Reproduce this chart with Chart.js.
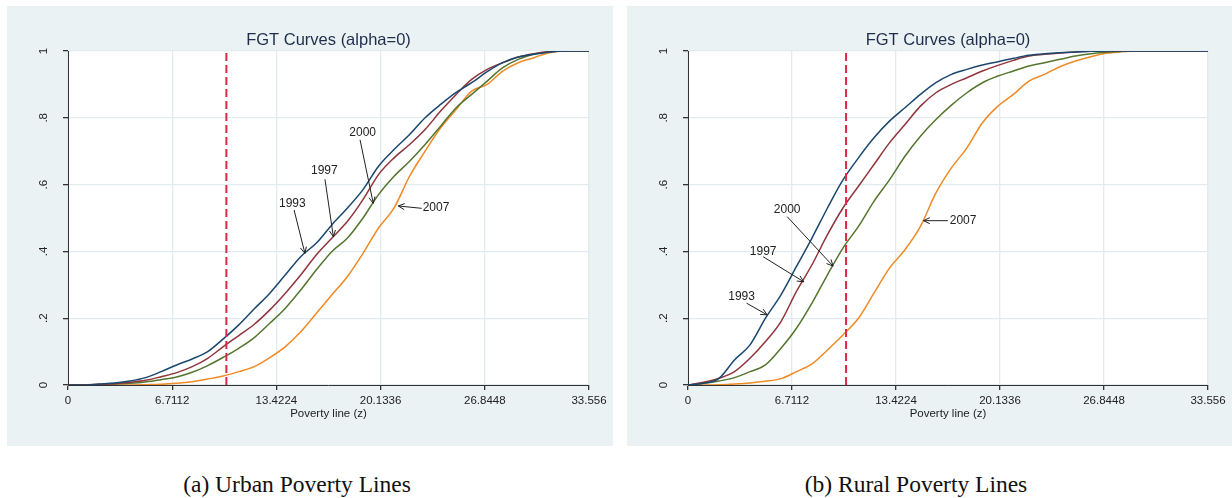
<!DOCTYPE html>
<html>
<head>
<meta charset="utf-8">
<script src="https://cdn.jsdelivr.net/npm/chart.js@4.4.1/dist/chart.umd.min.js"></script>
<style>
body { margin: 0; background: #fff; width: 1232px; height: 498px; position: relative; overflow: hidden; }
.panel { position: absolute; top: 6px; height: 440px; background: #eaf2f3; }
#panelA { left: 7px; width: 606px; }
#panelB { left: 627px; width: 605px; }
.caption { position: absolute; top: 471px; width: 300px; text-align: center; font-family: "Liberation Serif", "Times New Roman", serif; font-size: 23.5px; color: #111; white-space: nowrap; }
#capA { left: 147px; }
#capB { left: 766px; }
</style>
</head>
<body>
<div class="panel" id="panelA"><canvas id="chartA"></canvas></div>
<div class="panel" id="panelB"><canvas id="chartB"></canvas></div>
<div class="caption" id="capA">(a) Urban Poverty Lines</div>
<div class="caption" id="capB">(b) Rural Poverty Lines</div>
<script>
// poverty line values (z) where each curve was read
const zGrid = [0,1,2,3,4,5,6,7,8,9,10,11,12,13,14,15,16,17,18,19,20,21,22,23,24,25,26,27,28,29,30,31,32,33,33.556];

const years = ['1993', '1997', '2000', '2007'];
const yearColors = ['#1a476f', '#90353b', '#55752f', '#ef8a25'];

// urban headcount (alpha = 0)
const urban1993 = [0,0,0.003,0.006,0.012,0.022,0.04,0.06,0.078,0.1,0.138,0.18,0.228,0.275,0.33,0.385,0.425,0.48,0.53,0.585,0.655,0.705,0.75,0.8,0.84,0.876,0.905,0.938,0.965,0.982,0.99,0.997,1,1,1];
const urban1997 = [0,0,0.002,0.004,0.008,0.014,0.025,0.037,0.055,0.08,0.115,0.148,0.182,0.225,0.275,0.33,0.39,0.44,0.49,0.555,0.63,0.68,0.72,0.765,0.82,0.87,0.915,0.945,0.965,0.982,0.992,0.998,1,1,1];
const urban2000 = [0,0,0.001,0.003,0.005,0.009,0.016,0.024,0.038,0.058,0.083,0.11,0.142,0.185,0.23,0.285,0.345,0.4,0.44,0.5,0.57,0.625,0.67,0.72,0.775,0.83,0.87,0.91,0.95,0.975,0.99,0.998,1,1,1];
const urban2007 = [0,0,0,0,0,0.001,0.002,0.005,0.01,0.018,0.027,0.04,0.055,0.082,0.115,0.16,0.215,0.27,0.325,0.394,0.47,0.53,0.625,0.7,0.77,0.825,0.88,0.9,0.94,0.965,0.98,0.995,1,1,1];

// rural headcount (alpha = 0)
const rural1993 = [0,0.005,0.02,0.075,0.12,0.2,0.27,0.355,0.44,0.53,0.614,0.68,0.74,0.79,0.83,0.87,0.905,0.93,0.945,0.958,0.968,0.978,0.987,0.992,0.995,0.997,0.999,1,1,1,1,1,1,1,1];
const rural1997 = [0,0.008,0.02,0.04,0.08,0.13,0.19,0.28,0.36,0.45,0.53,0.595,0.66,0.725,0.78,0.835,0.875,0.9,0.92,0.94,0.957,0.972,0.985,0.99,0.994,0.997,0.999,1,1,1,1,1,1,1,1];
const rural2000 = [0,0.005,0.012,0.022,0.04,0.06,0.11,0.17,0.245,0.33,0.41,0.475,0.55,0.614,0.685,0.745,0.795,0.838,0.875,0.905,0.925,0.94,0.955,0.965,0.975,0.985,0.992,0.996,0.999,1,1,1,1,1,1];
const rural2007 = [0,0,0.001,0.003,0.006,0.011,0.019,0.04,0.063,0.105,0.15,0.2,0.275,0.35,0.405,0.475,0.575,0.65,0.71,0.785,0.835,0.87,0.91,0.93,0.953,0.97,0.983,0.993,0.998,1,1,1,1,1,1];

const povertyLine = 10.2;

const xTickValues = [0, 6.7112, 13.4224, 20.1336, 26.8448, 33.556];
const xTickLabels = ['0', '6.7112', '13.4224', '20.1336', '26.8448', '33.556'];
const yTickValues = [0, 0.2, 0.4, 0.6, 0.8, 1];
const yTickLabels = ['0', '.2', '.4', '.6', '.8', '1'];

// year labels with arrows, in data units: [label x, label y, tail x, tail y, tip x, tip y]
const urbanNotes = [
    [14.45, 0.542, 14.56, 0.524, 15.26, 0.394],
    [16.51, 0.642, 16.55, 0.616, 17.09, 0.444],
    [18.98, 0.755, 18.81, 0.734, 19.66, 0.544],
    [23.7, 0.532, 22.78, 0.529, 21.27, 0.536]
];
const ruralNotes = [
    [3.46, 0.264, 3.78, 0.245, 5.11, 0.21],
    [4.85, 0.399, 4.85, 0.384, 7.47, 0.309],
    [6.4, 0.526, 6.4, 0.504, 9.36, 0.356],
    [17.75, 0.492, 16.77, 0.492, 15.2, 0.492]
];

const FONT = '"Liberation Sans", Arial, sans-serif';

const decorPlugin = {
    id: 'decor',
    beforeDraw(chart) {
        const a = chart.chartArea;
        const ctx = chart.ctx;
        ctx.save();
        ctx.fillStyle = '#ffffff';
        ctx.fillRect(a.left, a.top, a.right - a.left, a.bottom - a.top);
        ctx.restore();
    },
    afterDraw(chart, args, opts) {
        const a = chart.chartArea;
        const ctx = chart.ctx;
        const xs = chart.scales.x, ys = chart.scales.y;
        ctx.save();
        ctx.textAlign = 'center';
        ctx.textBaseline = 'middle';
        ctx.fillStyle = '#1e2d4c';
        ctx.font = '16.5px ' + FONT;
        ctx.fillText('FGT Curves (alpha=0)', (a.left + a.right) / 2, a.top - 11);
        ctx.fillStyle = '#222';
        ctx.font = '11.5px ' + FONT;
        ctx.fillText('Poverty line (z)', (a.left + a.right) / 2, a.bottom + 29);

        // year labels and arrows
        ctx.strokeStyle = '#222';
        ctx.lineWidth = 1;
        ctx.font = '12px ' + FONT;
        ctx.fillStyle = '#222';
        opts.notes.forEach((n, i) => {
            ctx.fillText(years[i], xs.getPixelForValue(n[0]), ys.getPixelForValue(n[1]));
            const x1 = xs.getPixelForValue(n[2]), y1 = ys.getPixelForValue(n[3]);
            const x2 = xs.getPixelForValue(n[4]), y2 = ys.getPixelForValue(n[5]);
            const ang = Math.atan2(y2 - y1, x2 - x1);
            ctx.beginPath();
            ctx.moveTo(x1, y1);
            ctx.lineTo(x2, y2);
            ctx.moveTo(x2 - 7 * Math.cos(ang - 0.45), y2 - 7 * Math.sin(ang - 0.45));
            ctx.lineTo(x2, y2);
            ctx.lineTo(x2 - 7 * Math.cos(ang + 0.45), y2 - 7 * Math.sin(ang + 0.45));
            ctx.stroke();
        });
        ctx.restore();
    }
};

function toPoints(values) {
    return zGrid.map((z, i) => ({ x: z, y: values[i] }));
}

function makeChart(canvasId, series, notes) {
    const datasets = [{
        data: [{ x: povertyLine, y: 0 }, { x: povertyLine, y: 1 }],
        borderColor: '#dc2846',
        borderWidth: 2,
        borderDash: [8, 4]
    }];
    series.forEach((values, i) => {
        datasets.push({
            label: years[i],
            data: toPoints(values),
            borderColor: yearColors[i],
            borderWidth: 1.5,
            cubicInterpolationMode: 'monotone'
        });
    });

    return new Chart(document.getElementById(canvasId), {
        type: 'line',
        data: { datasets: datasets },
        plugins: [decorPlugin],
        options: {
            responsive: true,
            maintainAspectRatio: false,
            animation: false,
            events: [],
            layout: { padding: { left: 0, right: 24, top: 45, bottom: 0 } },
            elements: { point: { radius: 0 } },
            plugins: {
                legend: { display: false },
                tooltip: { enabled: false },
                decor: { notes: notes }
            },
            scales: {
                x: {
                    type: 'linear',
                    min: 0,
                    max: 33.556,
                    afterBuildTicks: scale => { scale.ticks = xTickValues.map(v => ({ value: v })); },
                    afterFit: scale => { scale.height = 61; },
                    grid: { color: '#e2ebee', lineWidth: 1.3, tickLength: 5, tickColor: '#333' },
                    border: { display: true, color: '#333', width: 1 },
                    ticks: {
                        padding: 4,
                        autoSkip: false,
                        maxRotation: 0,
                        color: '#222',
                        font: { family: FONT, size: 11.5 },
                        callback: (v, i) => xTickLabels[i]
                    }
                },
                y: {
                    min: 0,
                    max: 1,
                    afterBuildTicks: scale => { scale.ticks = yTickValues.map(v => ({ value: v })); },
                    afterFit: scale => { scale.width = 61; },
                    grid: { color: '#e2ebee', lineWidth: 1.3, tickLength: 5, tickColor: '#333' },
                    border: { display: true, color: '#333', width: 1 },
                    ticks: {
                        padding: 14,
                        minRotation: 90,
                        maxRotation: 90,
                        crossAlign: 'center',
                        color: '#222',
                        font: { family: FONT, size: 11.5 },
                        callback: (v, i) => yTickLabels[i]
                    }
                }
            }
        }
    });
}

makeChart('chartA', [urban1993, urban1997, urban2000, urban2007], urbanNotes);
makeChart('chartB', [rural1993, rural1997, rural2000, rural2007], ruralNotes);
</script>
</body>
</html>
